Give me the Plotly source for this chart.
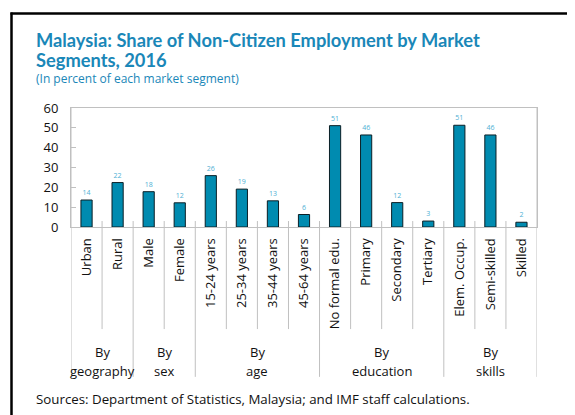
import plotly.graph_objects as go

categories = ["Urban", "Rural", "Male", "Female", "15-24 years", "25-34 years",
              "35-44 years", "45-64 years", "No formal edu.", "Primary", "Secondary",
              "Tertiary", "Elem. Occup.", "Semi-skilled", "Skilled"]
values = [13.6, 22.4, 17.8, 12.2, 25.9, 19.1, 13.2, 6.3, 51.1, 46.4, 12.3, 3.0, 51.3, 46.4, 2.4]
group_top = ["By", "By", "By", "By", "By"]
group_bottom = ["geography", "sex", "age", "education", "skills"]
group_sizes = [2, 2, 4, 4, 3]
y_ticks = [0, 10, 20, 30, 40, 50, 60]

W, H = 575, 415
OFF = 8  # page body margin
# target screen geometry of the plot area
SX0, SX1, SY0, SY1 = 71, 537, 108, 227.5
ML, MT = SX0 - OFF, SY0 - OFF
MR = W - (SX1 - OFF)
MB = H - (SY1 - OFF)
PW, PH = W - ML - MR, H - MT - MB

def px_x(px):
    return (px - SX0) / PW

def px_y(py):
    return (SY1 - py) / PH

FONT = "Open Sans"
BLUE = "#1A87B8"
GRID = "#C0C0C0"

fig = go.Figure(go.Bar(
    x=categories, y=values, width=0.36,
    marker=dict(color="#008BB0", line=dict(color="#0B1F26", width=1)),
    texttemplate="%{y:.0f}", textposition="outside",
    textfont=dict(size=7, color="#4FB0D4", family=FONT),
    cliponaxis=False,
))

shapes = []
start = 0
bounds = []
for s in group_sizes:
    start += s
    bounds.append(start - 0.5)
for i in range(len(categories) - 1):
    xpos = i + 0.5
    bottom = 378 if xpos in bounds else 330
    shapes.append(dict(type="line", xref="x", yref="paper", x0=xpos, x1=xpos,
                       y0=px_y(221.5), y1=px_y(bottom), line=dict(color=GRID, width=1)))
for xpos in (-0.5, len(categories) - 0.5):
    shapes.append(dict(type="line", xref="x", yref="paper", x0=xpos, x1=xpos,
                       y0=1, y1=px_y(378), line=dict(color=GRID, width=1)))
# outer black frame
shapes.append(dict(type="line", xref="paper", yref="paper", x0=px_x(11.5), x1=px_x(11.5),
                   y0=px_y(12), y1=px_y(430), line=dict(color="#000", width=2.5)))
shapes.append(dict(type="line", xref="paper", yref="paper", x0=px_x(10.5), x1=px_x(590),
                   y0=px_y(13), y1=px_y(13), line=dict(color="#000", width=2.5)))

annotations = []
pos = 0
for top, bot, s in zip(group_top, group_bottom, group_sizes):
    c = pos + (s - 1) / 2
    pos += s
    annotations.append(dict(x=c, y=px_y(353), xref="x", yref="paper", text=top,
                            showarrow=False, yanchor="middle",
                            font=dict(size=13, color="#111", family=FONT)))
    annotations.append(dict(x=c, y=px_y(372), xref="x", yref="paper", text=bot,
                            showarrow=False, yanchor="middle",
                            font=dict(size=13, color="#111", family=FONT)))

title_lines = ["Malaysia: Share of Non-Citizen Employment by Market", "Segments, 2016"]
for j, (line, yc) in enumerate(zip(title_lines, (40, 60))):
    annotations.append(dict(x=px_x(34), y=px_y(yc), xref="paper", yref="paper",
                            text="<b>" + line + "</b>", showarrow=False,
                            xanchor="left", yanchor="middle",
                            font=dict(size=18.3, color=BLUE, family="Lato")))
annotations.append(dict(x=px_x(34), y=px_y(78), xref="paper", yref="paper",
                        text="(In percent of each market segment)", showarrow=False,
                        xanchor="left", yanchor="middle",
                        font=dict(size=12, color=BLUE, family=FONT)))
annotations.append(dict(x=px_x(34), y=px_y(400), xref="paper", yref="paper",
                        text="Sources: Department of Statistics, Malaysia; and IMF staff calculations.",
                        showarrow=False, xanchor="left", yanchor="middle",
                        font=dict(size=13.3, color="#111", family=FONT)))

fig.update_layout(
    width=W, height=H,
    margin=dict(l=ML, r=MR, t=MT, b=MB, autoexpand=False),
    paper_bgcolor="white", plot_bgcolor="white",
    showlegend=False,
    shapes=shapes,
    annotations=annotations,
    font=dict(family=FONT, color="#111"),
)
fig.update_xaxes(
    type="category", range=[-0.5, len(categories) - 0.5],
    tickangle=-90, tickfont=dict(size=13, color="#111", family=FONT),
    ticks="", showline=True, linecolor=GRID, linewidth=1, mirror=True,
    showgrid=False, ticklabelstandoff=5,
)
fig.update_yaxes(
    range=[0, 60], tickvals=y_ticks, ticks="inside", ticklen=5, tickcolor=GRID,
    tickfont=dict(size=13, color="#111", family=FONT),
    showline=True, linecolor=GRID, linewidth=1, mirror=True,
    showgrid=False, zeroline=False, ticklabelstandoff=9,
)
fig.write_html("out.html")
